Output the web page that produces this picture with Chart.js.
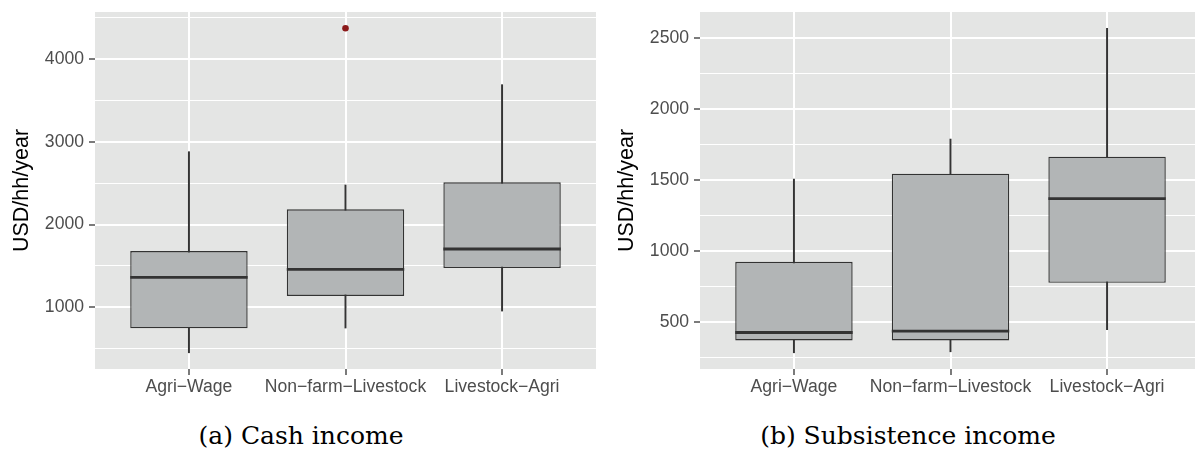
<!DOCTYPE html>
<html>
<head>
<meta charset="utf-8">
<script src="https://cdn.jsdelivr.net/npm/chart.js@4"></script>
<style>
  html, body { margin: 0; padding: 0; background: #fff; overflow: hidden; }
  body { width: 1195px; height: 452px; position: relative; }
  canvas { position: absolute; top: 0; }
  #cashChart { left: 0; }
  #subChart { left: 605px; }
  .caption {
    position: absolute; top: 421px; width: 400px; text-align: center;
    font-family: "DejaVu Serif", serif; font-size: 25px; line-height: 30px; color: #000;
  }
</style>
</head>
<body>
<canvas id="cashChart" width="600" height="400"></canvas>
<canvas id="subChart" width="600" height="400"></canvas>
<div class="caption" style="left:101px">(a) Cash income</div>
<div class="caption" style="left:708px">(b) Subsistence income</div>
<script>
const categories = ['Agri−Wage', 'Non−farm−Livestock', 'Livestock−Agri'];

// (a) cash income, USD/hh/year
const cashMin = [451, 750, 955];
const cashQ1 = [746, 1137, 1475];
const cashMedian = [1363, 1459, 1705];
const cashQ3 = [1681, 2185, 2511];
const cashMax = [2881, 2479, 3691];
const cashOutliers = [[], [4373], []];

// (b) subsistence income, USD/hh/year
const subMin = [284, 291, 446];
const subQ1 = [371, 371, 777];
const subMedian = [427, 437, 1370];
const subQ3 = [925, 1546, 1666];
const subMax = [1508, 1790, 2571];
const subOutliers = [[], [], []];

Chart.defaults.font.family = '"Liberation Sans", Arial, sans-serif';

const panelBg = {
  id: 'panelBg',
  beforeDraw(chart) {
    const a = chart.chartArea, ctx = chart.ctx;
    ctx.save();
    ctx.fillStyle = '#E4E5E4';
    ctx.fillRect(a.left, a.top, a.right - a.left, a.bottom - a.top);
    ctx.restore();
  }
};

// median bars drawn across the box elements
const medianLines = {
  id: 'medianLines',
  afterDatasetsDraw(chart, args, opts) {
    const meta = chart.getDatasetMeta(1);
    const y = chart.scales.y, ctx = chart.ctx;
    ctx.save();
    ctx.strokeStyle = '#333333';
    ctx.lineWidth = 2.8;
    opts.values.forEach((m, i) => {
      const bar = meta.data[i];
      const py = y.getPixelForValue(m);
      ctx.beginPath();
      ctx.moveTo(bar.x - bar.width / 2, py);
      ctx.lineTo(bar.x + bar.width / 2, py);
      ctx.stroke();
    });
    ctx.restore();
  }
};

function makeChart(id, mins, q1, med, q3, maxs, outliers, step, major) {
  const all = mins.concat(maxs, outliers.flat());
  const lo = Math.min(...all), hi = Math.max(...all);
  const pad = (hi - lo) * 0.05;
  const outPts = [];
  outliers.forEach((list, i) => list.forEach(v => outPts.push({ x: i, y: v })));

  new Chart(document.getElementById(id), {
    type: 'bar',
    data: {
      datasets: [
        {
          data: categories.map((c, i) => ({ x: i, y: [mins[i], maxs[i]] })),
          backgroundColor: '#333333',
          barThickness: 1.3,
          grouped: false,
          order: 3
        },
        {
          data: categories.map((c, i) => ({ x: i, y: [q1[i], q3[i]] })),
          backgroundColor: '#B2B5B6',
          borderColor: '#333333',
          borderWidth: 1.4,
          borderSkipped: false,
          barPercentage: 0.75,
          categoryPercentage: 1,
          grouped: false,
          order: 2
        },
        {
          type: 'scatter',
          data: outPts,
          pointRadius: 3.3,
          pointBackgroundColor: '#8B1A1A',
          pointBorderWidth: 0,
          order: 1
        }
      ]
    },
    options: {
      responsive: false,
      animation: false,
      devicePixelRatio: 1,
      layout: { padding: { top: 12, right: 4, left: 0, bottom: 0 } },
      plugins: {
        legend: { display: false },
        tooltip: { enabled: false },
        medianLines: { values: med }
      },
      scales: {
        x: {
          type: 'linear',
          min: -0.6,
          max: 2.6,
          offset: false,
          afterBuildTicks: s => { s.ticks = categories.map((c, i) => ({ value: i })); },
          afterFit: s => { s.height = 31; },
          border: { display: false },
          grid: { offset: false, color: '#FFFFFF', lineWidth: 2, tickColor: '#333333', tickWidth: 1.3, tickLength: 6 },
          ticks: {
            callback: v => categories[v],
            color: '#4D4D4D',
            font: { size: 17.6 },
            padding: 2,
            maxRotation: 0,
            autoSkip: false
          }
        },
        y: {
          type: 'linear',
          min: lo - pad,
          max: hi + pad,
          afterBuildTicks: s => {
            const t = [];
            for (let v = Math.ceil(s.min / step) * step; v <= s.max; v += step) t.push({ value: v });
            s.ticks = t;
          },
          afterFit: s => { s.width = 95; s.paddingTop = 0; s.paddingBottom = 0; },
          border: { display: false },
          grid: {
            color: '#FFFFFF',
            lineWidth: c => (c.tick && c.tick.value % major === 0 ? 2 : 1),
            tickColor: c => (c.tick && c.tick.value % major === 0 ? '#333333' : 'rgba(0,0,0,0)'),
            tickWidth: 1.3,
            tickLength: 6
          },
          ticks: {
            callback: v => (v % major === 0 ? String(v) : ''),
            color: '#4D4D4D',
            font: { size: 17.6 },
            padding: 5,
            autoSkip: false
          },
          title: {
            display: true,
            text: 'USD/hh/year',
            color: '#000000',
            font: { size: 21.5 },
            padding: { top: 8.8, bottom: 0 }
          }
        }
      }
    },
    plugins: [panelBg, medianLines]
  });
}

makeChart('cashChart', cashMin, cashQ1, cashMedian, cashQ3, cashMax, cashOutliers, 500, 1000);
makeChart('subChart', subMin, subQ1, subMedian, subQ3, subMax, subOutliers, 250, 500);
</script>
</body>
</html>
